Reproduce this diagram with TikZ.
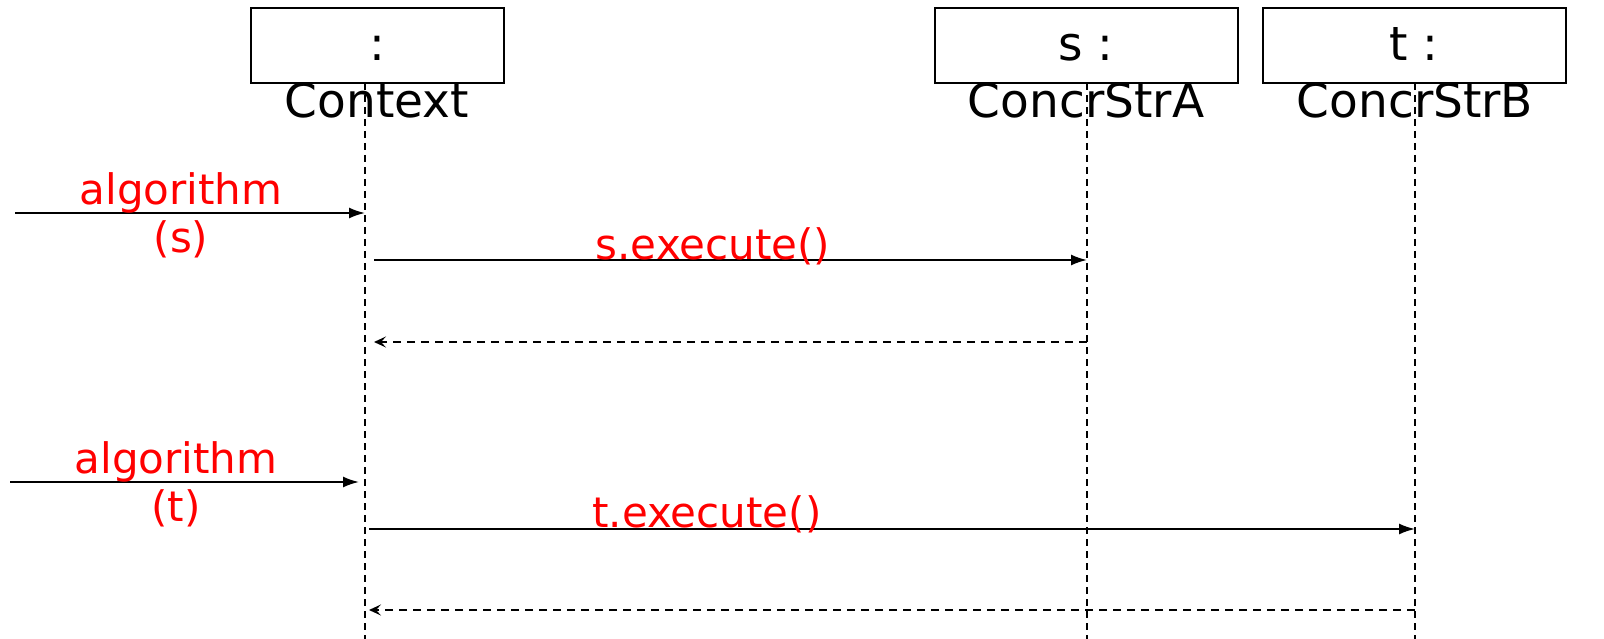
\documentclass[tikz,border=0pt]{standalone}
\usepackage{fontspec}
\setmainfont{DejaVu Sans}
\usetikzlibrary{arrows.meta}
\begin{document}
\begin{tikzpicture}[x=1pt,y=-1pt,
  objbox/.style={draw,line width=1.6pt,minimum width=#1,minimum height=75pt,inner sep=0pt},
  objtxt/.style={font=\fontsize{47}{50}\selectfont,inner sep=0pt,anchor=base},
  redtxt/.style={text=red,font=\fontsize{42}{48}\selectfont,inner sep=0pt,align=center},
  lifeline/.style={dashed,dash pattern=on 7pt off 5pt,line width=1.6pt},
  msg/.style={line width=1.8pt,-{Latex[length=16pt,width=11pt]}},
  ret/.style={line width=1.7pt,dashed,dash pattern=on 8pt off 6pt,-{Stealth[length=12pt,width=11pt,open,inset=5pt]}}]
\useasboundingbox (0,0) rectangle (1604,639);
% boxes
\node[objbox=253pt] (ctx) at (377.5,45.5) {};
\node[objbox=303pt] (sa) at (1086.5,45.5) {};
\node[objbox=303pt] (tb) at (1414.5,45.5) {};
\node[objtxt] (ctx1) at (377,61) {:};
\node[objtxt] (ctx2) at (377,118) {Context};
\node[objtxt] (sa1) at (1086,61) {s :};
\node[objtxt] (sa2) at (1086,118) {ConcrStrA};
\node[objtxt] (tb1) at (1414,61) {t :};
\node[objtxt] (tb2) at (1415,118) {ConcrStrB};
% lifelines
\coordinate (ctxE) at (365,639);
\coordinate (saE) at (1087,639);
\coordinate (tbE) at (1415,639);
\draw[lifeline] (365,83) -- (ctxE);
\draw[lifeline] (1087,83) -- (saE);
\draw[lifeline] (1415,83) -- (tbE);
% message points
\coordinate (a1s) at (15,213);  \coordinate (a1e) at (365,213);
\coordinate (a2s) at (374,260); \coordinate (a2e) at (1087,260);
\coordinate (r1s) at (1087,342);\coordinate (r1e) at (374,342);
\coordinate (a3s) at (10,482);  \coordinate (a3e) at (359,482);
\coordinate (a4s) at (369,529); \coordinate (a4e) at (1415,529);
\coordinate (r2s) at (1415,610);\coordinate (r2e) at (369,610);
\draw[msg] (a1s) -- (a1e);
\draw[msg] (a2s) -- (a2e);
\draw[ret] (r1s) -- (r1e);
\draw[msg] (a3s) -- (a3e);
\draw[msg] (a4s) -- (a4e);
\draw[ret] (r2s) -- (r2e);
% labels
\node[redtxt] (l1) at (181,215) {algorithm\\(s)};
\node[redtxt] (l2) at (713,246) {s.execute()};
\node[redtxt] (l3) at (176,484) {algorithm\\(t)};
\node[redtxt] (l4) at (707,514) {t.execute()};
\end{tikzpicture}
\end{document}
